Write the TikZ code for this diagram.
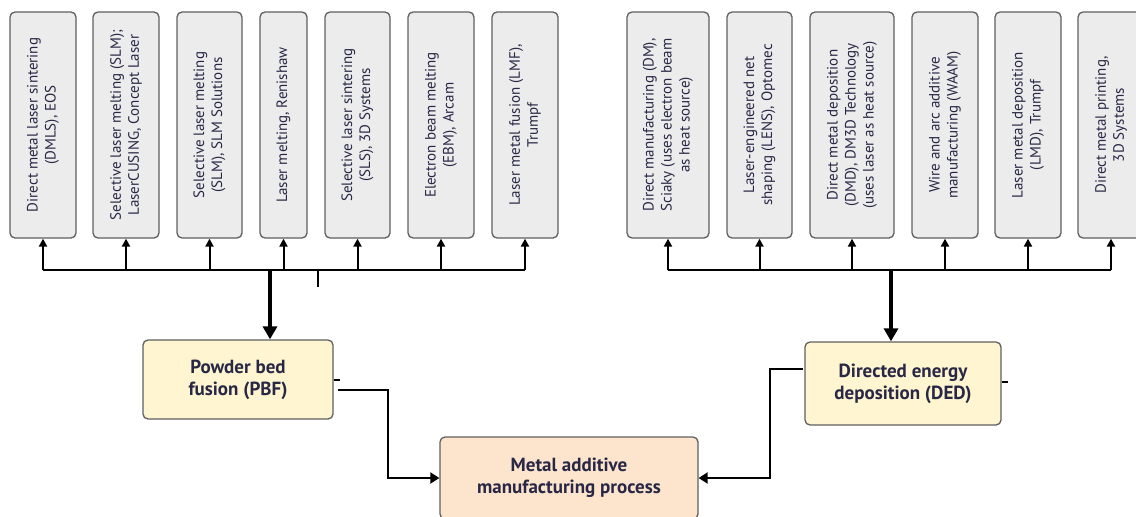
\documentclass[tikz,border=0pt]{standalone}
\usepackage{fontspec}
\setmainfont{PT Sans}
\usetikzlibrary{arrows.meta}
\definecolor{txt}{RGB}{40,40,70}
\definecolor{boxgray}{RGB}{236,236,236}
\definecolor{edgegray}{RGB}{95,95,95}
\definecolor{yel}{RGB}{255,245,208}
\definecolor{peach}{RGB}{253,228,204}
\tikzset{
  vbox/.style={draw=edgegray, line width=1.3pt, fill=boxgray, rounded corners=5pt,
    rotate=90, minimum width=226pt, inner sep=1pt, align=center, text=txt,
    font=\fontsize{15}{18}\selectfont},
  hbox/.style={draw=edgegray, line width=1.3pt, fill=yel, rounded corners=5pt,
    align=center, text=txt, font=\fontsize{19}{22}\selectfont\bfseries},
  mbox/.style={hbox, fill=peach},
  bus/.style={line width=2pt},
  up/.style={line width=2pt, -{Triangle[length=8pt,width=8pt]}},
  thick arrow/.style={line width=3.2pt, -{Triangle[length=13pt,width=14pt]}},
  link/.style={line width=2pt, -{Triangle[length=9pt,width=11pt]}},
}
\begin{document}
\begin{tikzpicture}[x=1pt,y=-1pt]
\useasboundingbox (0,0) rectangle (1136,517);
% left group
\node[vbox, minimum height=66pt] (a1) at (43,125) {Direct metal laser sintering\\(DMLS), EOS};
\node[vbox, minimum height=66pt] (a2) at (126,125) {Selective laser melting (SLM);\\LaserCUSING, Concept Laser};
\node[vbox, minimum height=65pt] (a3) at (209.5,125) {Selective laser melting\\(SLM), SLM Solutions};
\node[vbox, minimum height=47pt] (a4) at (283.5,125) {Laser melting, Renishaw};
\node[vbox, minimum height=65pt] (a5) at (357.5,125) {Selective laser sintering\\(SLS), 3D Systems};
\node[vbox, minimum height=66pt] (a6) at (441,125) {Electron beam melting\\(EBM), Arcam};
\node[vbox, minimum height=66pt] (a7) at (525,125) {Laser metal fusion (LMF),\\Trumpf};
% right group
\node[vbox, minimum height=82pt] (b1) at (668,125) {Direct manufacturing (DM),\\Sciaky (uses electron beam\\as heat source)};
\node[vbox, minimum height=65pt] (b2) at (759.5,125) {Laser-engineered net\\shaping (LENS), Optomec};
\node[vbox, minimum height=84pt] (b3) at (852,125) {Direct metal deposition\\(DMD), DM3D Technology\\(uses laser as heat source)};
\node[vbox, minimum height=66pt] (b4) at (945,125) {Wire and arc additive\\manufacturing (WAAM)};
\node[vbox, minimum height=66pt] (b5) at (1028,125) {Laser metal deposition\\(LMD), Trumpf};
\node[vbox, minimum height=66pt] (b6) at (1111,125) {Direct metal printing,\\3D Systems};
% process boxes
\node[hbox, minimum width=190pt, minimum height=79pt] (pbf) at (238,379.5) {Powder bed\\fusion (PBF)};
\node[hbox, minimum width=196pt, minimum height=83pt] (ded) at (903,383.5) {Directed energy\\deposition (DED)};
\node[mbox, minimum width=258pt, minimum height=82pt] (mam) at (569,478) {Metal additive\\manufacturing process};
% buses
\coordinate (busL) at (0,270);
\coordinate (busR) at (0,270);
\draw[bus] (a1 |- busL) -- (a7 |- busL);
\draw[bus] (b1 |- busR) -- (b6 |- busR);
\foreach \n in {a1,a2,a3,a4,a5,a6,a7}{\draw[up] (\n |- busL) -- (\n);}
\foreach \n in {b1,b2,b3,b4,b5,b6}{\draw[up] (\n |- busR) -- (\n);}
\coordinate (dl) at (270,270);
\coordinate (dr) at (891,270);
\draw[thick arrow] (dl) -- (dl |- pbf.north);
\draw[thick arrow] (dr) -- (dr |- ded.north);
% small ticks
\coordinate (t1) at (318,270);
\coordinate (t2) at (318,287);
\draw[line width=1.5pt] (t1) -- (t2);
\coordinate (pt1) at (340,380);
\draw[line width=2pt] (pbf.east |- pt1) -- (pt1);
\coordinate (dt1) at (1008,382);
\draw[line width=2pt] (ded.east |- dt1) -- (dt1);
% links
\coordinate (ps) at (338,390);
\coordinate (pk) at (388,390);
\draw[link] (ps) -- (pk) |- (mam.west);
\coordinate (ds) at (803,369);
\coordinate (dk) at (770,369);
\draw[link] (ds) -- (dk) |- (mam.east);
\end{tikzpicture}
\end{document}
